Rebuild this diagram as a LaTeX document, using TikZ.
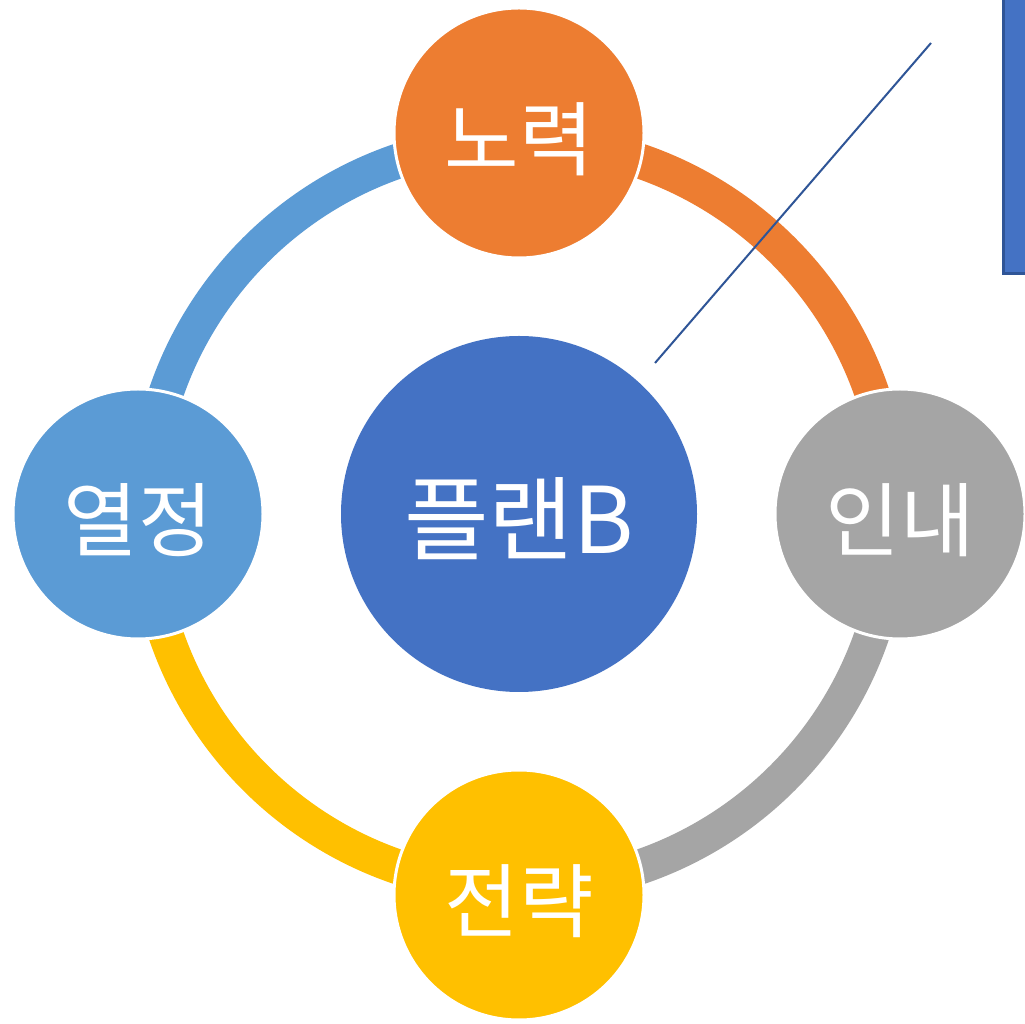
\documentclass[tikz,border=0pt]{standalone}
\usepackage{fontspec}
\newfontfamily\kr{Noto Sans CJK KR}
\definecolor{cblue}{HTML}{4472C4}
\definecolor{clblue}{HTML}{5B9BD5}
\definecolor{corange}{HTML}{ED7D31}
\definecolor{cgray}{HTML}{A5A5A5}
\definecolor{cyellow}{HTML}{FFC000}
\definecolor{cdark}{HTML}{2F5597}
\tikzset{
  ringarc/.style={line width=35pt, line cap=butt},
  outer/.style={circle, minimum size=250pt, inner sep=0pt, draw=white, line width=3pt},
  outertext/.style={text=white, yshift=-6pt, font=\kr\fontsize{81}{81}\selectfont},
  hub/.style={circle, minimum size=356pt, inner sep=0pt, fill=cblue},
  hubtext/.style={text=white, yshift=-5pt, font=\kr\fontsize{92}{92}\selectfont},
}
\begin{document}
\begin{tikzpicture}[x=1pt,y=1pt]
\useasboundingbox (0,0) rectangle (1025,1023);
\clip (0,0) rectangle (1025,1023);
\fill[white] (0,0) rectangle (1025,1023);
\coordinate (c) at (519,509);
% ring segments
\draw[ringarc, clblue] (c) ++(90:373pt) arc[start angle=90, end angle=180, radius=373pt];
\draw[ringarc, corange] (c) ++(0:373pt) arc[start angle=0, end angle=90, radius=373pt];
\draw[ringarc, cgray] (c) ++(270:373pt) arc[start angle=270, end angle=360, radius=373pt];
\draw[ringarc, cyellow] (c) ++(180:373pt) arc[start angle=180, end angle=270, radius=373pt];
% nodes
\node[hub, label={[hubtext]center:플랜B}] (plan) at (c) {};
\node[outer, fill=corange, label={[outertext]center:노력}] (effort) at (519,890) {};
\node[outer, fill=clblue, label={[outertext]center:열정}] (passion) at (138,509) {};
\node[outer, fill=cgray, label={[outertext]center:인내}] (patience) at (900,509) {};
\node[outer, fill=cyellow, label={[outertext]center:전략}] (strategy) at (519,128) {};
% callout box and line
\node[draw=cdark, line width=3pt, fill=cblue, minimum width=100pt, minimum height=400pt, anchor=south west, inner sep=0pt] (box) at (1001.5,747.5) {};
\coordinate (la) at (655,660);
\coordinate (lb) at (931,980);
\draw[cdark, line width=2pt] (la) -- (lb);
\end{tikzpicture}
\end{document}
